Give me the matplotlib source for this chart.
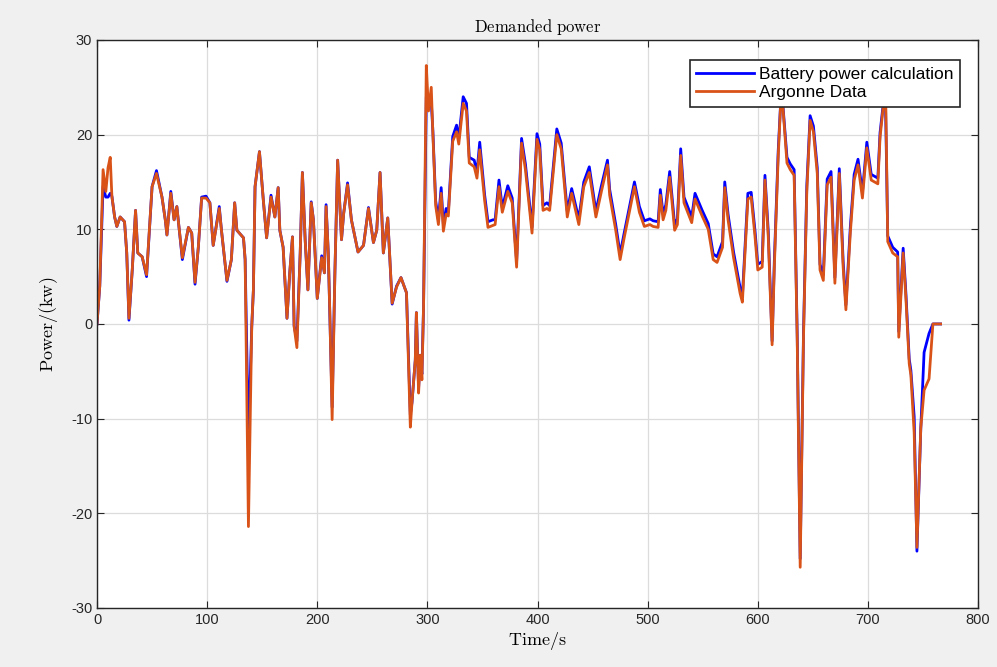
import matplotlib
matplotlib.use("Agg")
import matplotlib.pyplot as plt

# time stamps (s)
t = [0, 2.5, 5.5, 8, 10, 12, 13.5, 16, 18, 21, 25, 27, 29, 32, 35, 37, 41, 45, 50, 54,
     59, 62, 63.5, 67, 70, 72.5, 74, 77.5, 83, 86, 89, 92, 95, 99, 102.5, 105.5, 111, 113, 118, 122,
     125, 127, 133, 134.5, 137.5, 140.5, 142, 143.5, 147.5, 151, 154, 158, 161.5, 164.5, 166, 169, 172.5, 175, 177.5, 179,
     181.5, 184.5, 186.5, 189, 191.5, 194.5, 196.5, 200, 204, 206.5, 208, 210, 211.5, 213.5, 216, 218.5, 222, 224, 227.5, 231,
     237, 242, 246.5, 251, 254, 257, 260, 264, 268, 272, 276, 281, 284.5, 286, 289, 290, 292, 293.5, 295, 296.5,
     299, 301, 303.5, 305, 307.5, 310, 312.5, 314.5, 317, 319, 323, 326.5, 328.5, 332.5, 335.5, 338, 342.5, 345, 347.5, 352,
     355, 359.5, 361.5, 365, 368, 373, 377, 381, 385.5, 389, 392, 395, 399.5, 402, 405, 408.5, 411, 417.5, 421.5, 427,
     431, 437.5, 442, 447, 453, 458, 463.5, 465.5, 471, 475, 478.5, 488, 492.5, 497, 502, 505, 509.5, 511.5, 514, 516.5,
     520, 524.5, 527, 530, 533, 540, 543, 549.5, 555, 559.5, 563, 568, 570, 573, 578, 584, 586, 591, 594, 597.5,
     600, 604, 606.5, 609.5, 613, 615, 618.5, 620.5, 621.5, 623, 626.5, 629.5, 633, 635.8, 638.5, 641.5, 644.5, 647.5, 650.5, 654,
     656.5, 659.5, 663, 666.5, 670, 674, 677.5, 680, 684, 687.5, 691, 695, 699, 703, 709, 711, 713.5, 716, 718, 722.5,
     727, 728, 732, 734.5, 737.5, 739, 742, 744.5, 748, 751, 755.5, 759, 766]

# Argonne Data (kW)
argonne = [0, 4, 16.3, 14, 16.5, 17.6, 13.5, 11.3, 10.3, 11.3, 10.8, 7.5, 0.6, 5.7, 12, 7.5, 7.1, 5.2, 14.5, 15.9,
           13.4, 11, 9.4, 13.8, 11, 12.4, 10.7, 7, 10.2, 9.6, 4.4, 8.1, 13.3, 13.3, 12.8, 8.3, 12.2, 9.9, 4.6, 6.8,
           12.8, 9.9, 9.1, 6.8, -21.4, -0.3, 3.6, 14.5, 18.2, 13.1, 9.1, 13.4, 11.3, 14.4, 9.9, 8.1, 0.6, 5.4, 9.2, -0.3,
           -2.5, 7.5, 16, 8.9, 3.6, 12.8, 11, 2.7, 7, 5.4, 12.4, 7.5, 0.7, -10.1, 5.4, 17.3, 8.9, 11.7, 14.7, 11,
           7.6, 8.3, 12.2, 8.6, 9.9, 16, 7.5, 11.2, 2.2, 3.9, 4.9, 3.3, -10.9, -8.3, -3.8, 1.2, -7.3, -3.3, -5.9, 1.8,
           27.3, 22.5, 25, 20, 12.5, 10.5, 13.8, 9.8, 11.6, 11.4, 19.3, 20.3, 19, 23.3, 22.5, 17, 16.6, 15.4, 18.4, 13,
           10.2, 10.4, 10.5, 14.5, 11.8, 14, 12.8, 6, 19.1, 16.3, 13, 9.6, 19.5, 18.4, 12, 12.2, 12, 20, 18.5, 11.3,
           13.8, 10.5, 14.5, 16, 11.3, 14, 16.8, 13.6, 9.9, 6.8, 9, 14.5, 11.8, 10.3, 10.5, 10.3, 10.2, 13.6, 11, 12,
           15.5, 9.9, 10.5, 17.8, 12.8, 10.7, 13.2, 11.4, 10, 6.8, 6.5, 8.1, 14.4, 11, 7, 3.2, 2.3, 13.2, 13.4, 9.2,
           5.7, 6, 15.2, 9.2, -2.2, 6, 17.6, 22.6, 26, 22.6, 17, 16.3, 15.7, -1.7, -25.7, -1.4, 14, 21.5, 20.3, 15.9,
           5.7, 4.6, 14.7, 15.5, 4.3, 15.9, 6, 1.5, 9.6, 15.2, 16.8, 13.3, 18.6, 15.2, 14.8, 19.7, 22.5, 25, 8.7, 7.5,
           7.1, -1.4, 7.5, 2.7, -4.2, -5.4, -11.5, -23.6, -11, -7, -5.8, 0, 0]

# Battery power calculation (kW)
battery = [0, 4, 14.5, 13.4, 13.4, 13.8, 13.5, 11.3, 10.3, 11.3, 10.8, 7.5, 0.4, 5.7, 12, 7.5, 7.1, 5.0, 14.5, 16.2,
           13.4, 11, 9.4, 14.0, 11, 12.4, 10.7, 6.8, 10.2, 9.6, 4.2, 8.1, 13.4, 13.5, 12.8, 8.3, 12.4, 9.9, 4.5, 6.8,
           12.8, 9.9, 9.1, 6.8, -12.2, -0.3, 3.6, 14.5, 18.2, 13.1, 9.1, 13.6, 11.3, 14.4, 9.9, 8.1, 0.6, 5.4, 9.2, -0.2,
           -1.8, 7.5, 16, 8.9, 3.6, 12.9, 11, 2.7, 7.2, 5.4, 12.6, 7.5, 0.7, -8.8, 5.4, 17.3, 8.9, 11.7, 14.9, 11,
           7.6, 8.3, 12.3, 8.6, 9.9, 16, 7.5, 11.2, 2.1, 4.0, 4.9, 3.3, -9.6, -8.3, -3.8, 1.2, -6.8, -3.3, -5.3, 1.8,
           24.0, 23.7, 23.5, 20.3, 13.0, 11.0, 14.4, 10.5, 12.2, 11.8, 19.8, 21.0, 19.6, 24.0, 23.3, 17.6, 17.3, 16.0, 19.2, 13.6,
           10.8, 11.0, 11.0, 15.2, 12.3, 14.6, 13.3, 6.6, 19.6, 16.9, 13.5, 10.2, 20.1, 19.0, 12.5, 12.8, 12.5, 20.6, 19.1, 11.9,
           14.3, 11.1, 15.0, 16.6, 11.9, 14.6, 17.3, 14.2, 10.5, 7.4, 9.5, 15.0, 12.4, 10.9, 11.1, 10.9, 10.8, 14.2, 11.6, 12.6,
           16.1, 10.5, 11.1, 18.5, 13.4, 11.3, 13.8, 12.0, 10.6, 7.4, 7.1, 8.7, 15.0, 11.6, 7.6, 3.8, 2.9, 13.8, 13.9, 9.8,
           6.3, 6.6, 15.7, 9.8, -1.8, 6.6, 18.2, 22.8, 23.2, 22.8, 17.6, 16.9, 16.3, -1.2, -24.8, -0.9, 14.6, 22.0, 20.9, 16.5,
           6.3, 5.2, 15.3, 16.1, 4.9, 16.4, 6.6, 2.0, 10.2, 15.8, 17.4, 13.9, 19.2, 15.8, 15.4, 20.2, 22.8, 23.0, 9.3, 8.1,
           7.6, -0.8, 8.0, 3.2, -3.7, -4.9, -9.8, -24.0, -11, -3.0, -1.0, 0, 0]

plt.rcParams['mathtext.fontset'] = 'cm'
plt.rcParams['axes.unicode_minus'] = False
fig = plt.figure(figsize=(9.97, 6.67), dpi=100, facecolor='#f0f0f0')
ax = fig.add_axes([0.0973, 0.0885, 0.8837, 0.8516])
ax.set_facecolor('white')

ax.plot(t, battery, color='#0000ff', linewidth=2.0, label='Battery power calculation')
ax.plot(t, argonne, color='#d95319', linewidth=2.0, label='Argonne Data')

ax.set_xlim(0, 800)
ax.set_ylim(-30, 30)
ax.set_xticks(range(0, 801, 100))
ax.set_yticks(range(-30, 31, 10))
ax.grid(True, color='#dcdcdc', linewidth=0.9)
ax.set_axisbelow(True)
ax.tick_params(direction='in', top=True, right=True, length=5, labelsize=10.5, colors='#262626')
for lab in ax.get_xticklabels() + ax.get_yticklabels():
    lab.set_family('Liberation Sans')
for s in ax.spines.values():
    s.set_color('#262626')
    s.set_linewidth(1.0)

ax.set_title(r'$\mathrm{Demanded\ power}$', fontsize=12, pad=6)
ax.set_xlabel(r'$\mathrm{Time/s}$', fontsize=13, labelpad=2)
ax.set_ylabel(r'$\mathrm{Power/(kw)}$', fontsize=13, labelpad=8)

leg = ax.legend(loc='upper right', bbox_to_anchor=(0.98, 0.965),
                prop={'family': 'Liberation Sans', 'size': 12.5},
                fancybox=False, framealpha=1, edgecolor='#262626',
                borderpad=0.4, handlelength=3.3, handletextpad=0.3, labelspacing=0.15,
                borderaxespad=0)
leg.get_frame().set_linewidth(1.2)

fig.savefig('out.png', dpi=100, facecolor=fig.get_facecolor())
